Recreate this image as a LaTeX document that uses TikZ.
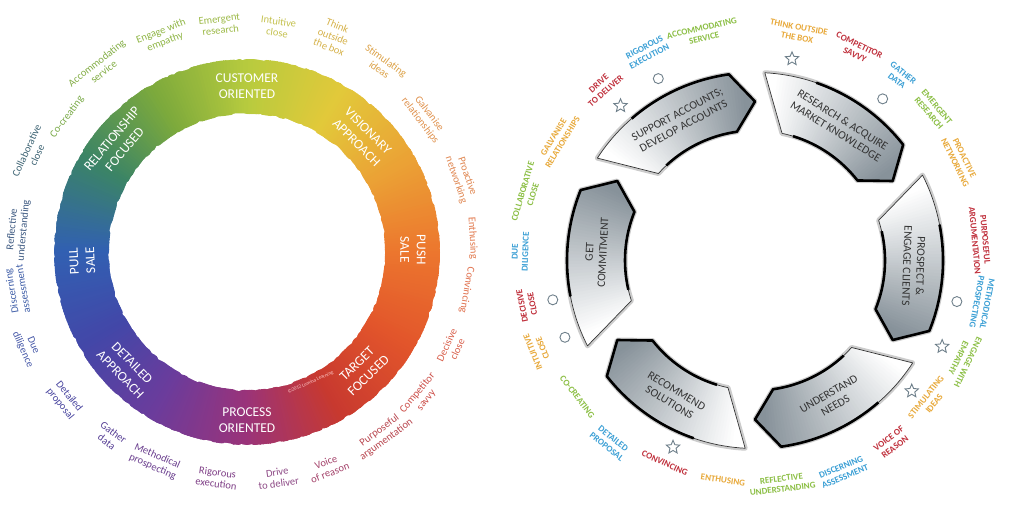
\documentclass[tikz,border=0pt]{standalone}
\usepackage{fontspec}
\setmainfont{Carlito}
\usetikzlibrary{shapes.geometric,decorations.pathmorphing}
\definecolor{k0}{HTML}{B8CB3E}
\definecolor{k1}{HTML}{E2C93A}
\definecolor{k2}{HTML}{EBA235}
\definecolor{k3}{HTML}{EC762E}
\definecolor{k4}{HTML}{E2552B}
\definecolor{k5}{HTML}{C8392F}
\definecolor{k6}{HTML}{9A337A}
\definecolor{k7}{HTML}{6B3C9C}
\definecolor{k8}{HTML}{4347A8}
\definecolor{k9}{HTML}{3160B2}
\definecolor{k10}{HTML}{3B8466}
\definecolor{k11}{HTML}{7DAA3C}
\definecolor{stepdark}{HTML}{87929A}
\definecolor{markcol}{HTML}{6E7F8A}
\definecolor{ry}{HTML}{E8A93A}
\definecolor{rr}{HTML}{C0303C}
\definecolor{rb}{HTML}{3A9FD5}
\definecolor{rg}{HTML}{8CBF45}
\newcommand\stepseg[1]{%
 \pgfmathsetmacro\sgA{#1}%
 \pgfmathsetmacro\sgB{#1-49}%
 \pgfmathsetmacro\sgC{#1-57}%
 \pgfmathsetmacro\sgN{#1-9}%
 \pgfmathsetmacro\sgK{#1-16}%
 \pgfmathsetmacro\sgL{#1-14}%
 \draw[gray!40, line width=5, line join=round] (\sgA:188) arc[start angle=\sgA,end angle=\sgB,radius=188] -- (\sgC:159) -- (\sgB:130) arc[start angle=\sgB,end angle=\sgN,radius=130] -- cycle;
 \begin{scope}
 \clip (\sgA:188) arc[start angle=\sgA,end angle=\sgB,radius=188] -- (\sgC:159) -- (\sgB:130) arc[start angle=\sgB,end angle=\sgN,radius=130] -- cycle;
 \foreach \j in {0,...,58}{%
   \pgfmathsetmacro\sgP{min(100,max(0,(\j-4)*2))}%
   \pgfmathsetmacro\sgS{\sgA+1-\j}%
   \pgfmathsetmacro\sgE{\sgA-1.3-\j}%
   \fill[stepdark!\sgP!white] (0,0) -- (\sgS:205) -- (\sgE:205) -- cycle;
 }
 \end{scope}
 \draw[black!80, line width=0.7, line join=round] (\sgA:188) arc[start angle=\sgA,end angle=\sgB,radius=188] -- (\sgC:159) -- (\sgB:130) arc[start angle=\sgB,end angle=\sgN,radius=130] -- cycle;
 \draw[black, line width=2.6, line join=round] (\sgK:188) arc[start angle=\sgK,end angle=\sgB,radius=188] -- (\sgC:159) -- (\sgB:130) arc[start angle=\sgB,end angle=\sgL,radius=130];
}
\begin{document}
\begin{tikzpicture}[x=1pt,y=1pt,
  lab/.style={font=\fontsize{10.5}{11.5}\selectfont, align=center, inner sep=0pt},
  ringlab/.style={font=\fontsize{13.5}{16.5}\selectfont, text=white, align=center, inner sep=0pt},
  rlab/.style={font=\bfseries\fontsize{9}{10.5}\selectfont, align=center, inner sep=0pt},
  boxlab/.style={font=\fontsize{11.5}{13.5}\selectfont, text=black!80, align=center, inner sep=0pt},
  starmark/.style={star, star points=5, star point ratio=2.2, draw=markcol, line width=0.9, minimum size=14pt, inner sep=0pt},
  circmark/.style={circle, draw=markcol, line width=0.9, minimum size=10pt, inner sep=0pt}]
\useasboundingbox (0,0) rectangle (1024,520);
\fill[white] (0,0) rectangle (1024,520);

% ---------------- left wheel ----------------
\begin{scope}[shift={(247,268)}]
\foreach \a/\ca/\cb in {90/k0/k1, 60/k1/k2, 30/k2/k3, 0/k3/k4, -30/k4/k5, -60/k5/k6, -90/k6/k7, -120/k7/k8, -150/k8/k9, -180/k9/k10, -210/k10/k11, -240/k11/k0}{
  \foreach \j in {0,...,29}{
    \pgfmathsetmacro\p{100-\j*10/3}
    \pgfmathsetmacro\s{\a-\j+0.2}
    \pgfmathsetmacro\e{\a-\j-1.2}
    \fill[\ca!\p!\cb] (\s:138) arc[start angle=\s,end angle=\e,radius=138] -- (\e:193) arc[start angle=\e,end angle=\s,radius=193] -- cycle;
  }
}
\draw[white, line width=2.5, decorate, decoration={random steps, segment length=4pt, amplitude=1.3pt}] (0,0) circle[radius=194.5];
\draw[white, line width=2.5, decorate, decoration={random steps, segment length=4pt, amplitude=1.3pt}] (0,0) circle[radius=136.5];

\node[ringlab] (cust) at (90:166) {CUSTOMER\\ORIENTED};
\node[ringlab, rotate=-45] (vis) at (45:163) {VISIONARY\\APPROACH};
\node[ringlab, rotate=-90] (push) at (0.7:166) {PUSH\\SALE};
\node[ringlab, rotate=44.5] (targ) at (-45.5:165) {TARGET\\FOCUSED};
\node[ringlab] (proc) at (-90:168) {PROCESS\\ORIENTED};
\node[ringlab, rotate=-46] (det) at (-136:168) {DETAILED\\APPROACH};
\node[ringlab, rotate=93] (pull) at (-177:165) {PULL\\SALE};
\node[ringlab, rotate=50] (rel) at (140:168) {RELATIONSHIP\\FOCUSED};
\node[font=\fontsize{5}{6}\selectfont, text=white!80!red, rotate=23] (copy) at (-64:145) {\textcopyright2012 Lumina Learning};

\node[lab, text={rgb,255:red,157;green,186;blue,72}, rotate=6.8] (L1) at (96.8:229) {Emergent\\research};
\node[lab, text={rgb,255:red,197;green,194;blue,80}, rotate=-7.8] (L2) at (82.2:227) {Intuitive\\close};
\node[lab, text={rgb,255:red,214;green,178;blue,74}, rotate=-21.8] (L3) at (68.2:232) {Think\\outside\\the box};
\node[lab, text={rgb,255:red,220;green,162;blue,72}, rotate=-36] (L4) at (54:231) {Stimulating\\ideas};
\node[lab, text={rgb,255:red,224;green,146;blue,78}, rotate=-52.8] (L5) at (37.2:223) {Galvanise\\relationships};
\node[lab, text={rgb,255:red,224;green,134;blue,80}, rotate=-71] (L6) at (19:227) {Proactive\\networking};
\node[lab, text={rgb,255:red,226;green,122;blue,78}, rotate=-86.5] (L7) at (3.5:226) {Enthusing};
\node[lab, text={rgb,255:red,224;green,110;blue,74}, rotate=-99.8] (L8) at (-9.8:223) {Convincing};
\node[lab, text={rgb,255:red,217;green,96;blue,76}, rotate=65.1] (L9) at (-24.9:226) {Decisive\\close};
\node[lab, text={rgb,255:red,204;green,78;blue,72}, rotate=50.4] (L10) at (-39.6:227) {Competitor\\savvy};
\node[lab, text={rgb,255:red,184;green,69;blue,78}, rotate=36.6] (L11) at (-53.4:228) {Purposeful\\argumentation};
\node[lab, text={rgb,255:red,164;green,66;blue,106}, rotate=20.6] (L12) at (-69.4:230) {Voice\\of reason};
\node[lab, text={rgb,255:red,142;green,74;blue,134}, rotate=7.8] (L13) at (-82.2:228) {Drive\\to deliver};
\node[lab, text={rgb,255:red,126;green,62;blue,134}, rotate=-7.6] (L14) at (-97.6:228) {Rigorous\\execution};
\node[lab, text={rgb,255:red,106;green,62;blue,142}, rotate=-23.7] (L15) at (-113.7:229) {Methodical\\prospecting};
\node[lab, text={rgb,255:red,88;green,64;blue,150}, rotate=-36.5] (L16) at (-126.5:230) {Gather\\data};
\node[lab, text={rgb,255:red,74;green,70;blue,160}, rotate=-50.9] (L17) at (-140.9:235) {Detailed\\proposal};
\node[lab, text={rgb,255:red,70;green,88;blue,168}, rotate=-66.5] (L18) at (-156.5:239) {Due\\diligence};
\node[lab, text={rgb,255:red,63;green,94;blue,168}, rotate=99.4] (L19) at (-170.6:233) {Discerning\\assessment};
\node[lab, text={rgb,255:red,62;green,90;blue,130}, rotate=84.5] (L20) at (174.5:230) {Reflective\\understanding};
\node[lab, text={rgb,255:red,62;green,100;blue,116}, rotate=65.3] (L21) at (155.3:237) {Collaborative\\close};
\node[lab, text={rgb,255:red,122;green,170;blue,72}, rotate=53.1] (L22) at (143.1:225) {Co-creating};
\node[lab, text={rgb,255:red,132;green,174;blue,70}, rotate=38.5] (L23) at (128.5:236) {Accommodating\\service};
\node[lab, text={rgb,255:red,144;green,182;blue,70}, rotate=21.3] (L24) at (111.3:231) {Engage with\\empathy};
\end{scope}

% ---------------- right wheel ----------------
\begin{scope}[shift={(755,259.5)}]
\stepseg{147}
\stepseg{87}
\stepseg{27}
\stepseg{-33}
\stepseg{-93}
\stepseg{-153}
\node[boxlab, rotate=28] (sup) at (118:159) {SUPPORT ACCOUNTS;\\DEVELOP ACCOUNTS};
\node[boxlab, rotate=-32] (res) at (58:159) {RESEARCH \& ACQUIRE\\MARKET KNOWLEDGE};
\node[boxlab, rotate=-92] (pro) at (-2:159) {PROSPECT \&\\ENGAGE CLIENTS};
\node[boxlab, rotate=30] (und) at (-61:159) {UNDERSTAND\\NEEDS};
\node[boxlab, rotate=-31] (rec) at (-121:159) {RECOMMEND\\SOLUTIONS};
\node[boxlab, rotate=87] (get) at (177:159) {GET\\COMMITMENT};

\node[circmark] (c1) at (118:206) {};
\node[circmark] (c2) at (51.7:206) {};
\node[circmark] (c3) at (-11.5:206) {};
\node[circmark] (c4) at (-158:205) {};
\node[circmark] (c5) at (-169:206) {};
\node[starmark] (s1) at (131:205) {};
\node[starmark] (s2) at (79.6:205) {};
\node[starmark] (s3) at (-24.7:206) {};
\node[starmark] (s4) at (-39.8:204) {};
\node[starmark] (s5) at (-113.7:204) {};

\node[rlab, text=ry, rotate=-10.7] (R1) at (79.3:232) {THINK OUTSIDE\\THE BOX};
\node[rlab, text=rr, rotate=-25.9] (R2) at (64.1:234) {COMPETITOR\\SAVVY};
\node[rlab, text=rb, rotate=-38.3] (R3) at (51.7:234) {GATHER\\DATA};
\node[rlab, text=rg, rotate=-49.8] (R4) at (40.2:233) {EMERGENT\\RESEARCH};
\node[rlab, text=ry, rotate=-63.9] (R5) at (26.1:228) {PROACTIVE\\NETWORKING};
\node[rlab, text=rr, rotate=-84.8] (R6) at (5.2:226) {PURPOSEFUL\\ARGUMENTATION};
\node[rlab, text=rb, rotate=-100.6] (R7) at (-10.6:231) {METHODICAL\\PROSPECTING};
\node[rlab, text=rg, rotate=-115.6] (R8) at (-25.6:231) {ENGAGE WITH\\EMPATHY};
\node[rlab, text=ry, rotate=51.4] (R9) at (-38.6:224) {STIMULATING\\IDEAS};
\node[rlab, text=rr, rotate=36.9] (R10) at (-53.1:228) {VOICE OF\\REASON};
\node[rlab, text=rb, rotate=22.6] (R11) at (-67.4:229) {DISCERNING\\ASSESSMENT};
\node[rlab, text=rg, rotate=6.9] (R12) at (-83.1:225) {REFLECTIVE\\UNDERSTANDING};
\node[rlab, text=ry, rotate=-8.3] (R13) at (-98.3:222) {ENTHUSING};
\node[rlab, text=rr, rotate=-24] (R14) at (-114:222) {CONVINCING};
\node[rlab, text=rb, rotate=-38.5] (R15) at (-128.5:233) {DETAILED\\PROPOSAL};
\node[rlab, text=rg, rotate=-52.5] (R16) at (-142.5:224) {CO-CREATING};
\node[rlab, text=ry, rotate=112.4] (R17) at (-157.6:235) {INTUITIVE\\CLOSE};
\node[rlab, text=rr, rotate=101] (R18) at (-169:232) {DECISIVE\\CLOSE};
\node[rlab, text=rb, rotate=87.9] (R19) at (177.9:235) {DUE\\DILIGENCE};
\node[rlab, text=rg, rotate=73.4] (R20) at (163.4:237) {COLLABORATIVE\\CLOSE};
\node[rlab, text=ry, rotate=58.5] (R21) at (148.5:231) {GALVANISE\\RELATIONSHIPS};
\node[rlab, text=rr, rotate=41.4] (R22) at (131.4:231) {DRIVE\\TO DELIVER};
\node[rlab, text=rb, rotate=27.4] (R23) at (117.4:235) {RIGOROUS\\EXECUTION};
\node[rlab, text=rg, rotate=12.9] (R24) at (102.9:233) {ACCOMMODATING\\SERVICE};
\end{scope}
\end{tikzpicture}
\end{document}
